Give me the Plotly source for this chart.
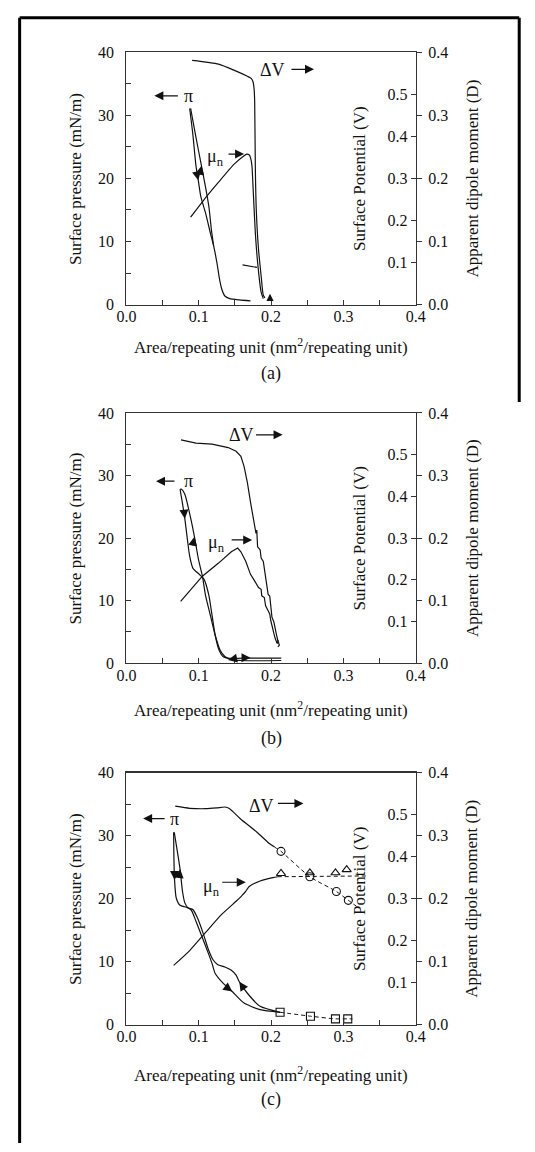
import plotly.graph_objects as go

W, H = 535, 1152
FONT = "Liberation Serif"
INK = "#111111"
AXC = "#333333"

# ---------------- Panel (a) ----------------
a_pi_down_x = [0.0874, 0.0918, 0.0961, 0.0993, 0.1028, 0.1094, 0.1161, 0.1206, 0.125, 0.1286, 0.1316, 0.136, 0.1427, 0.156, 0.1715]
a_pi_down_y = [31.1, 27.0, 22.0, 19.7, 17.1, 14.5, 11.3, 9.27, 6.67, 4.06, 2.5, 1.36, 0.94, 0.73, 0.58]
a_pi_up_x = [0.1206, 0.1174, 0.114, 0.1094, 0.1037, 0.0961, 0.0887]
a_pi_up_y = [9.27, 11.9, 15.5, 18.6, 22.0, 26.5, 31.1]
a_dv_x = [0.0908, 0.1273, 0.1493, 0.1672, 0.1725, 0.1750, 0.1766, 0.1773, 0.1782, 0.1795, 0.1826, 0.1862, 0.1892, 0.1915]
a_dv_y = [0.581, 0.572, 0.557, 0.543, 0.538, 0.530, 0.510, 0.482, 0.326, 0.225, 0.131, 0.0686, 0.022, 0.016]
a_mu_x = [0.0887, 0.105, 0.1273, 0.1493, 0.1626, 0.1662, 0.1695, 0.1715, 0.1735, 0.1746, 0.1782, 0.1818, 0.1862, 0.1892]
a_mu_y = [0.1386, 0.163, 0.194, 0.223, 0.236, 0.2386, 0.2375, 0.233, 0.22, 0.197, 0.1136, 0.0614, 0.0198, 0.0094]
a_seg_x = [0.1605, 0.1805]
a_seg_y = [0.0944, 0.0883]

# ---------------- Panel (b) ----------------
b_pi_down_x = [0.0741, 0.0775, 0.0807, 0.0838, 0.0874, 0.0918, 0.1007, 0.1073, 0.114, 0.1184, 0.1227, 0.128, 0.1339, 0.1423, 0.1715, 0.214]
b_pi_down_y = [27.8, 25.5, 23.1, 20.2, 17.1, 15.2, 14.2, 13.4, 10.8, 7.6, 4.46, 2.09, 1.02, 0.79, 0.82, 0.82]
b_pi_up_x = [0.214, 0.1848, 0.158, 0.145, 0.136, 0.1294, 0.1227, 0.1161, 0.1094, 0.105, 0.0997, 0.094, 0.0874, 0.0807, 0.0762, 0.0741]
b_pi_up_y = [0.43, 0.39, 0.43, 0.55, 1.06, 2.09, 4.46, 7.6, 10.8, 13.9, 16.5, 20.2, 23.9, 27.0, 27.8, 27.8]
b_dv_x = [0.0754, 0.0961, 0.1184, 0.1406, 0.1516, 0.1582, 0.1626, 0.1672, 0.1715, 0.1759, 0.1791, 0.1802, 0.1813, 0.1848,
          0.1862, 0.1892, 0.1915, 0.1938, 0.1959, 0.1981, 0.1995, 0.2012, 0.2039, 0.2057, 0.2071, 0.2092, 0.2114, 0.2094]
b_dv_y = [0.5355, 0.5275, 0.525, 0.517, 0.508, 0.496, 0.472, 0.433, 0.386, 0.347, 0.311, 0.319, 0.279, 0.272,
          0.252, 0.244, 0.220, 0.189, 0.165, 0.161, 0.138, 0.110, 0.0985, 0.0867, 0.0709, 0.055, 0.0432, 0.039]
b_mu_x = [0.0749, 0.105, 0.1273, 0.145, 0.1538, 0.1582, 0.1649, 0.1715, 0.1759, 0.1805, 0.1826, 0.1862, 0.1871, 0.1906,
          0.1924, 0.1959, 0.1981, 0.1995, 0.2012, 0.2039, 0.2057, 0.2084, 0.2101]
b_mu_y = [0.0987, 0.139, 0.160, 0.178, 0.184, 0.178, 0.163, 0.142, 0.134, 0.126, 0.121, 0.118, 0.1076, 0.105,
          0.0918, 0.0839, 0.0787, 0.0682, 0.0578, 0.0472, 0.0394, 0.0315, 0.0367]

# ---------------- Panel (c) ----------------
c_pi_down_x = [0.0652, 0.0656, 0.0665, 0.0688, 0.0741, 0.0828, 0.0895, 0.0961, 0.1051, 0.114, 0.1184, 0.1227, 0.1339, 0.1463, 0.1626, 0.1848, 0.2124]
c_pi_down_y = [30.52, 26.36, 22.97, 20.11, 18.95, 18.64, 18.20, 16.41, 13.75, 11.09, 9.69, 8.13, 6.56, 5.27, 3.44, 2.39, 1.98]
c_pi_up_x = [0.2124, 0.1848, 0.1672, 0.156, 0.1516, 0.145, 0.136, 0.1263, 0.1197, 0.113, 0.1064, 0.0984, 0.0918, 0.0851, 0.0807, 0.0775, 0.0741, 0.0705, 0.0661]
c_pi_up_y = [1.98, 2.92, 5.0, 6.83, 7.86, 8.64, 9.17, 9.53, 10.31, 12.03, 14.38, 16.88, 18.28, 18.55, 19.33, 21.14, 24.69, 27.39, 30.52]
c_dv_x = [0.0674, 0.0874, 0.1094, 0.125, 0.136, 0.1427, 0.1582, 0.1805, 0.1981, 0.2048]
c_dv_y = [0.520, 0.515, 0.514, 0.516, 0.518, 0.514, 0.489, 0.458, 0.4305, 0.4226]
c_mu_x = [0.0652, 0.0874, 0.1094, 0.1316, 0.1516, 0.1573, 0.1605, 0.1649, 0.1693, 0.1848, 0.2025, 0.2092]
c_mu_y = [0.0942, 0.1177, 0.1464, 0.175, 0.1958, 0.202, 0.206, 0.2114, 0.219, 0.228, 0.2333, 0.2348]
c_dv_dash_x = [0.2048, 0.2137, 0.2536, 0.2903, 0.3068, 0.318]
c_dv_dash_y = [0.4226, 0.4125, 0.352, 0.317, 0.296, 0.282]
c_dv_pts_x = [0.2137, 0.2536, 0.2903, 0.3068]
c_dv_pts_y = [0.4125, 0.352, 0.317, 0.296]
c_mu_dash_x = [0.2092, 0.331]
c_mu_dash_y = [0.2348, 0.236]
c_mu_pts_x = [0.2137, 0.2536, 0.289, 0.3045]
c_mu_pts_y = [0.240, 0.241, 0.241, 0.246]
c_pi_dash_x = [0.2124, 0.2544, 0.289, 0.306, 0.3125]
c_pi_dash_y = [1.98, 1.36, 0.94, 0.94, 0.94]

# tick labels
x_ticks = [0.0, 0.1, 0.2, 0.3, 0.4]
p_ticks = [0, 10, 20, 30, 40]
v_ticks = [0.1, 0.2, 0.3, 0.4, 0.5]
d_ticks = [0.0, 0.1, 0.2, 0.3, 0.4]
panel_labels = ["(a)", "(b)", "(c)"]
x_title = "Area/repeating unit (nm<sup>2</sup>/repeating unit)"
p_title = "Surface pressure (mN/m)"
v_title = "Surface Potential (V)"
d_title = "Apparent dipole moment (D)"

PLOT_L, PLOT_R = 121, 421.5
panels = [
    dict(top=45, bottom=301, tioff=42, loff=70),
    dict(top=411, bottom=665, tioff=47, loff=76),
    dict(top=776, bottom=1032, tioff=50, loff=76),
]

def px(x):
    return x / W

def py(y):
    return 1 - y / H

fig = go.Figure()
layout = dict(width=W, height=H, autosize=False, margin=dict(l=0, r=0, t=0, b=0),
              paper_bgcolor="white", plot_bgcolor="white", showlegend=False,
              font=dict(family=FONT, size=16, color=INK), hovermode=False)
annotations = []
shapes = []

tickfont = dict(family=FONT, size=16, color=INK)

for k, p in enumerate(panels):
    xs = "" if k == 0 else str(k + 1)
    yP, yV, yD = 3 * k + 1, 3 * k + 2, 3 * k + 3
    ydom = [py(p["bottom"]), py(p["top"])]
    layout["xaxis" + xs] = dict(domain=[px(PLOT_L), px(PLOT_R)], range=[0, 0.40001], anchor="y" + ("" if yP == 1 else str(yP)),
                                tickvals=x_ticks, ticktext=["%.1f" % v for v in x_ticks], ticks="inside", ticklen=5, tickwidth=1, tickcolor=AXC,
                                minor=dict(dtick=0.05, ticks="inside", ticklen=5, tickwidth=1, tickcolor=AXC),
                                showline=True, linecolor=AXC, linewidth=1.3, mirror=True, showgrid=False, zeroline=False,
                                tickfont=tickfont, ticklabelstandoff=-3, fixedrange=True)
    ypname = "yaxis" + ("" if yP == 1 else str(yP))
    layout[ypname] = dict(domain=ydom, range=[0, 40.001], anchor="x" + xs, tickvals=p_ticks, ticks="inside", ticklen=5,
                          tickwidth=1, tickcolor=AXC, minor=dict(dtick=5, ticks="inside", ticklen=5, tickwidth=1, tickcolor=AXC),
                          showline=True, linecolor=AXC, linewidth=1.3, showgrid=False, zeroline=False,
                          tickfont=tickfont, ticklabelstandoff=8, fixedrange=True)
    ovl = "y" + ("" if yP == 1 else str(yP))
    layout["yaxis" + str(yV)] = dict(domain=ydom, range=[0, 0.6], anchor="free", position=px(PLOT_R), overlaying=ovl, side="left",
                                     tickvals=v_ticks, ticktext=["%.1f" % v for v in v_ticks], ticks="outside", ticklen=5, tickwidth=1, tickcolor=AXC,
                                     showline=False, showgrid=False, zeroline=False,
                                     tickfont=tickfont, ticklabelstandoff=0, fixedrange=True)
    layout["yaxis" + str(yD)] = dict(domain=ydom, range=[0, 0.40001], anchor="x" + xs, overlaying=ovl, side="right",
                                     tickvals=d_ticks, ticktext=["%.1f" % v for v in d_ticks], ticks="outside", ticklen=5, tickwidth=1, tickcolor=AXC,
                                     showline=True, linecolor=AXC, linewidth=1.3, showgrid=False, zeroline=False,
                                     tickfont=tickfont, ticklabelstandoff=3, fixedrange=True)
    yc = (p["top"] + p["bottom"]) / 2
    xc = (PLOT_L + PLOT_R) / 2
    tf = dict(family=FONT, size=17, color=INK)
    common = dict(xref="paper", yref="paper", showarrow=False, xanchor="center", yanchor="middle")
    annotations += [
        dict(text=p_title, x=px(68), y=py(yc), textangle=-90, font=tf, **common),
        dict(text=v_title, x=px(363), y=py(yc), textangle=-90, font=tf, **common),
        dict(text=d_title, x=px(480), y=py(yc), textangle=-90, font=tf, **common),
        dict(text=x_title, x=px(xc), y=py(p["bottom"] + p["tioff"]), font=tf, **common),
        dict(text=panel_labels[k], x=px(xc), y=py(p["bottom"] + p["loff"]),
             font=dict(family=FONT, size=18, color=INK), **common),
    ]

LW = 1.2

def line(x, y, xa, ya, dash="solid", width=LW, shape="spline"):
    ln = dict(color=INK, width=width, dash=dash, shape=shape)
    if shape == "spline":
        ln["smoothing"] = 0.6
    fig.add_trace(go.Scatter(x=x, y=y, xaxis=xa, yaxis=ya, mode="lines", line=ln))

def pts(x, y, xa, ya, sym):
    fig.add_trace(go.Scatter(x=x, y=y, xaxis=xa, yaxis=ya, mode="markers",
                             marker=dict(symbol=sym, size=8, color=INK, line=dict(color=INK, width=1.1))))

line(a_pi_down_x, a_pi_down_y, "x", "y")
line(a_pi_up_x, a_pi_up_y, "x", "y")
line(a_dv_x, a_dv_y, "x", "y2")
line(a_mu_x, a_mu_y, "x", "y3")
line(a_seg_x, a_seg_y, "x", "y2", shape="linear")
line(b_pi_down_x, b_pi_down_y, "x2", "y4")
line(b_pi_up_x, b_pi_up_y, "x2", "y4")
line(b_dv_x, b_dv_y, "x2", "y5", shape="linear")
line(b_mu_x, b_mu_y, "x2", "y6", shape="linear")
line(c_pi_down_x, c_pi_down_y, "x3", "y7")
line(c_pi_up_x, c_pi_up_y, "x3", "y7")
line(c_dv_x, c_dv_y, "x3", "y8")
line(c_mu_x, c_mu_y, "x3", "y9")
line(c_dv_dash_x, c_dv_dash_y, "x3", "y8", dash="4px,3px", width=1)
line(c_mu_dash_x, c_mu_dash_y, "x3", "y9", dash="4px,3px", width=1)
line(c_pi_dash_x, c_pi_dash_y, "x3", "y7", dash="4px,3px", width=1)
pts(c_dv_pts_x, c_dv_pts_y, "x3", "y8", "circle-open")
pts(c_mu_pts_x, c_mu_pts_y, "x3", "y9", "triangle-up-open")
pts(c_pi_dash_x[:4], c_pi_dash_y[:4], "x3", "y7", "square-open")

def head(xr, yr, x, y, ax, ay, size=1.5):
    annotations.append(dict(x=x, y=y, xref=xr, yref=yr, ax=ax, ay=ay, axref="pixel", ayref="pixel", text="",
                            showarrow=True, arrowhead=2, arrowsize=size, arrowwidth=1.2, arrowcolor=INK, standoff=0))

def label(xr, yr, x, y, txt):
    annotations.append(dict(x=x, y=y, xref=xr, yref=yr, text=txt, showarrow=False, xanchor="center", yanchor="middle",
                            font=dict(family=FONT, size=18, color=INK)))

label("x", "y", 0.0851, 33.0, "π"); head("x", "y", 0.0386, 33.1, 25, 0)
label("x", "y", 0.2021, 37.2, "ΔV"); head("x", "y", 0.2593, 37.3, -24, 0)
label("x", "y", 0.1237, 23.3, "μ<sub>n</sub>"); head("x", "y", 0.1626, 23.86, -17, 0)
label("x2", "y4", 0.0851, 29.1, "π"); head("x2", "y4", 0.0408, 29.1, 20, 0)
label("x2", "y4", 0.1596, 36.5, "ΔV"); head("x2", "y4", 0.2158, 36.5, -28, 0)
label("x2", "y4", 0.125, 19.2, "μ<sub>n</sub>"); head("x2", "y4", 0.1738, 19.7, -22, 0)
label("x3", "y7", 0.0661, 32.7, "π"); head("x3", "y7", 0.023, 32.7, 23, 0)
label("x3", "y7", 0.1862, 34.7, "ΔV"); head("x3", "y7", 0.2447, 35.1, -27, 0)
label("x3", "y7", 0.117, 21.7, "μ<sub>n</sub>"); head("x3", "y7", 0.1649, 22.6, -25, 0)

head("x", "y", 0.0993, 19.7, -2, -10)
head("x", "y", 0.1037, 22.0, -2, 10)
head("x", "y", 0.1985, 1.7, 0, 8, 1.2)
head("x2", "y4", 0.0807, 23.1, -1, -10)
head("x2", "y4", 0.094, 20.2, -2, 10)
head("x2", "y4", 0.1406, 0.52, 10, -2)
head("x2", "y4", 0.1715, 0.85, -10, 0)
head("x3", "y7", 0.0665, 22.97, 0, -10)
head("x3", "y7", 0.0741, 24.69, -1, 10)
head("x3", "y7", 0.1463, 5.27, -8, -6)
head("x3", "y7", 0.156, 6.83, 6, 9)

for (x0, y0, x1, y1) in [(10, 10, 529, 10), (10, 10, 10, 1152), (529, 10, 529, 400)]:
    shapes.append(dict(type="line", xref="paper", yref="paper", x0=px(x0), y0=py(y0), x1=px(x1), y1=py(y1),
                       line=dict(color="black", width=3)))

layout["annotations"] = annotations
layout["shapes"] = shapes
fig.update_layout(**layout)
fig.write_html("out.html", config={"displayModeBar": False, "staticPlot": True},
               post_script="document.body.style.margin='0';document.body.style.overflow='hidden';")
